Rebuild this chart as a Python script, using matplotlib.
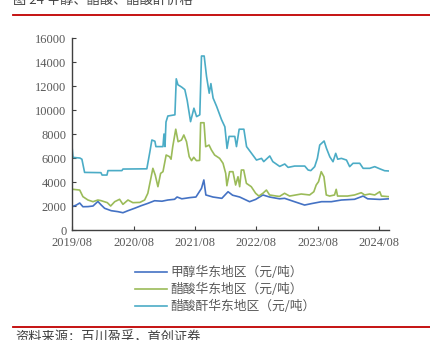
import matplotlib.pyplot as plt
import matplotlib.dates as mdates
import pandas as pd

plt.rcParams['font.family'] = ['Noto Sans CJK SC', 'DejaVu Sans']

# 甲醇华东地区（元/吨）
meoh_dates = ['2019-08-01', '2019-08-27', '2019-09-16', '2019-10-05', '2019-11-04', '2019-12-04',
              '2020-01-02', '2020-01-22', '2020-02-11', '2020-03-21', '2020-04-30', '2020-05-30',
              '2020-06-29', '2020-08-07', '2020-09-16', '2020-10-25', '2020-12-04', '2021-01-17',
              '2021-02-21', '2021-04-02', '2021-04-17', '2021-05-15', '2021-07-02', '2021-08-07',
              '2021-09-09', '2021-09-23', '2021-10-05', '2021-11-16', '2022-01-08', '2022-02-14',
              '2022-03-13', '2022-04-24', '2022-06-22', '2022-07-28', '2022-09-09', '2022-10-19',
              '2022-12-17', '2023-01-16', '2023-03-16', '2023-05-15', '2023-06-25', '2023-08-24',
              '2023-10-21', '2023-12-20', '2024-03-07', '2024-04-27', '2024-05-24', '2024-08-04',
              '2024-09-26']
meoh = [1940, 2080, 2250, 1940, 1950, 2000,
        2380, 2080, 1810, 1610, 1530, 1440,
        1610, 1810, 2030, 2220, 2440, 2400,
        2500, 2560, 2750, 2600, 2700, 2750,
        3470, 4170, 2920, 2750, 2640, 3190,
        2900, 2750, 2360, 2550, 2920, 2750,
        2600, 2640, 2360, 2080, 2200, 2360,
        2360, 2500, 2560, 2830, 2600, 2550,
        2600]

# 醋酸华东地区（元/吨）
acid_dates = ['2019-08-01', '2019-09-16', '2019-10-05', '2019-11-04', '2019-12-04', '2020-01-02',
              '2020-01-20', '2020-02-27', '2020-03-18', '2020-04-11', '2020-05-10', '2020-05-30',
              '2020-06-29', '2020-07-28', '2020-09-08', '2020-10-06', '2020-10-25', '2020-11-10',
              '2020-11-24', '2020-12-08', '2020-12-24', '2021-01-09', '2021-01-23', '2021-02-11',
              '2021-03-03', '2021-03-12', '2021-03-22', '2021-04-09', '2021-04-23', '2021-05-13',
              '2021-05-27', '2021-06-12', '2021-06-28', '2021-07-12', '2021-07-25', '2021-08-10',
              '2021-08-29', '2021-09-04', '2021-09-24', '2021-10-04', '2021-10-24', '2021-11-07',
              '2021-11-26', '2021-12-26', '2022-01-15', '2022-01-31', '2022-02-07', '2022-02-23',
              '2022-03-15', '2022-03-31', '2022-04-14', '2022-04-24', '2022-05-04', '2022-05-18',
              '2022-06-03', '2022-07-02', '2022-07-28', '2022-08-16', '2022-09-09', '2022-09-30',
              '2022-10-19', '2022-11-28', '2022-12-17', '2023-01-16', '2023-02-15', '2023-04-25',
              '2023-06-14', '2023-07-09', '2023-07-23', '2023-08-06', '2023-08-22', '2023-09-07',
              '2023-09-21', '2023-10-11', '2023-11-09', '2023-11-19', '2023-11-27', '2024-01-25',
              '2024-03-07', '2024-04-16', '2024-05-06', '2024-06-05', '2024-07-05', '2024-08-04',
              '2024-08-14', '2024-09-26']
acid = [3400, 3330, 2780, 2500, 2360, 2500,
        2450, 2280, 2000, 2360, 2560, 2140,
        2500, 2280, 2300, 2500, 3060, 4170,
        5140, 4580, 3610, 4720, 4860, 6250,
        6110, 5900, 6940, 8400, 7360, 7500,
        7920, 7360, 6110, 5780, 6060, 5780,
        5800, 8940, 8940, 6940, 7080, 6670,
        6250, 5970, 5560, 4720, 3690, 4860,
        4860, 3750, 4440, 3610, 5000, 5000,
        3890, 3610, 3060, 2830, 3060, 3330,
        2920, 2830, 2800, 3060, 2830, 3000,
        2920, 3190, 3750, 4030, 4860, 4440,
        2920, 2830, 2920, 3390, 2830, 2830,
        2920, 3110, 2920, 3000, 2920, 3190,
        2830, 2780]

# 醋酸酐华东地区（元/吨）
anh_dates = ['2019-08-01', '2019-08-07', '2019-09-17', '2019-09-29', '2019-10-15', '2020-01-20',
             '2020-01-27', '2020-02-25', '2020-03-02', '2020-05-24', '2020-05-30', '2020-10-19',
             '2020-11-06', '2020-11-18', '2020-12-06', '2020-12-12', '2021-01-23', '2021-01-29',
             '2021-02-04', '2021-02-10', '2021-02-21', '2021-04-04', '2021-04-12', '2021-04-22',
             '2021-05-04', '2021-05-15', '2021-06-02', '2021-06-16', '2021-07-06', '2021-07-26',
             '2021-08-11', '2021-08-30', '2021-09-09', '2021-09-25', '2021-10-09', '2021-10-25',
             '2021-11-04', '2021-11-17', '2021-12-08', '2022-01-06', '2022-01-26', '2022-02-08',
             '2022-02-20', '2022-03-26', '2022-04-05', '2022-04-21', '2022-05-19', '2022-06-04',
             '2022-07-03', '2022-08-02', '2022-09-01', '2022-09-14', '2022-10-20', '2022-11-07',
             '2022-12-18', '2023-01-17', '2023-02-06', '2023-03-17', '2023-05-16', '2023-06-05',
             '2023-06-21', '2023-07-14', '2023-07-30', '2023-08-13', '2023-09-08', '2023-09-22',
             '2023-10-12', '2023-10-31', '2023-11-16', '2023-11-28', '2023-12-20', '2024-01-19',
             '2024-02-07', '2024-02-27', '2024-04-07', '2024-04-27', '2024-06-05', '2024-07-05',
             '2024-08-04', '2024-09-02', '2024-09-26']
anh = [7000, 6050, 6000, 5900, 4800, 4780,
       4580, 4580, 4950, 4950, 5080, 5100,
       6500, 7500, 7400, 6950, 6950, 8000,
       6950, 9000, 9500, 9600, 12600, 12100,
       12000, 11900, 11700, 10800, 9030, 10150,
       9450, 9600, 14500, 14500, 12800, 11400,
       12200, 11000, 10300, 9200, 8600, 6800,
       7800, 7800, 6950, 8400, 8400, 6950,
       6400, 5830, 5970, 5700, 6170, 5700,
       5300, 5500, 5220, 5330, 5330, 5000,
       4950, 5280, 5970, 7080, 7420, 6810,
       6100, 5690, 6390, 5900, 5970, 5830,
       5280, 5560, 5560, 5140, 5140, 5280,
       5100, 4940, 4920]

names = ['甲醇华东地区（元/吨）', '醋酸华东地区（元/吨）', '醋酸酐华东地区（元/吨）']
colors = ['#4472C4', '#9BBB59', '#4BACC6']
xticks = ['2019-08-01', '2020-08-01', '2021-08-01', '2022-08-01', '2023-08-01', '2024-08-01']

fig = plt.figure(figsize=(4.31, 3.40), dpi=100)
ax = fig.add_axes([0.167, 0.3235, 0.7356, 0.5647])

series = [(meoh_dates, meoh), (acid_dates, acid), (anh_dates, anh)]
for (d, v), c, n in zip(series, colors, names):
    ax.plot(pd.to_datetime(d), v, color=c, lw=1.2, label=n)

ax.set_xlim(pd.Timestamp('2019-08-01'), pd.Timestamp('2024-09-28'))
ax.set_ylim(0, 16000)
ax.set_yticks(range(0, 16001, 2000))
ax.set_xticks(pd.to_datetime(xticks))
ax.xaxis.set_major_formatter(mdates.DateFormatter('%Y/%m'))

for s in ['top', 'right']:
    ax.spines[s].set_visible(False)
for s in ['left', 'bottom']:
    ax.spines[s].set_color('#404040')
    ax.spines[s].set_linewidth(1.0)
ax.tick_params(direction='in', length=3, width=0.8, color='#404040',
               labelcolor='#595959', labelsize=9)
for lab in ax.get_xticklabels() + ax.get_yticklabels():
    lab.set_family('Liberation Serif')
ax.tick_params(axis='x', pad=5)
ax.tick_params(axis='y', pad=4)

leg = ax.legend(loc='upper left', bbox_to_anchor=(0.18, -0.155), frameon=False,
                fontsize=9.2, handlelength=2.45, handletextpad=0.3, labelspacing=0.3,
                borderpad=0)
for t in leg.get_texts():
    t.set_color('#595959')

# header and footer
fig.text(0.03, 1.0, '图 24 甲醇、醋酸、醋酸酐价格', fontsize=9.5, color='#404040',
         ha='left', va='center')
fig.add_artist(plt.Line2D([0.03, 1.0], [1 - 15 / 340] * 2, color='#C00000', lw=1.3))
fig.add_artist(plt.Line2D([0.03, 1.0], [1 - 327 / 340] * 2, color='#C00000', lw=1.3))
fig.text(0.035, 1 - 338 / 340, '资料来源：百川盈孚，首创证券', fontsize=9.5, color='#404040',
         ha='left', va='center')

fig.savefig('out.png', dpi=100)
